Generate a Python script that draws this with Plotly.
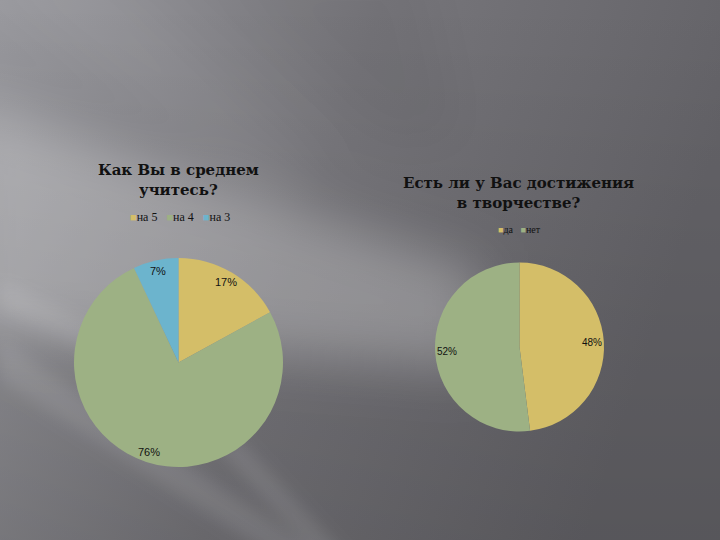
import base64
import math
import plotly.graph_objects as go

# ---------------- data ----------------
left_title = "Как Вы в среднем<br>учитесь?"
left_labels = ["на 5", "на 4", "на 3"]
left_values = [17, 76, 7]

right_title = "Есть ли у Вас достижения<br>в творчестве?"
right_labels = ["да", "нет"]
right_values = [48, 52]

left_colors = ["#D4BE68", "#9DB184", "#6CB4CD"]
right_colors = ["#D4BE68", "#9DB184"]

W, H = 720, 540

# ---------------- background (slide) ----------------
svg = f'''<svg xmlns="http://www.w3.org/2000/svg" width="{W}" height="{H}" viewBox="0 0 {W} {H}">
<defs>
<linearGradient id="g" x1="0" y1="0" x2="1" y2="0.25">
<stop offset="0" stop-color="#98989d"/>
<stop offset="0.5" stop-color="#77767b"/>
<stop offset="1" stop-color="#646368"/>
</linearGradient>
<linearGradient id="v" x1="0" y1="0" x2="0" y2="1">
<stop offset="0" stop-color="#000" stop-opacity="0"/>
<stop offset="1" stop-color="#000" stop-opacity="0.13"/>
</linearGradient>
<filter id="b" x="-50%" y="-50%" width="200%" height="200%"><feGaussianBlur stdDeviation="26"/></filter>
<filter id="s" x="-50%" y="-50%" width="200%" height="200%"><feGaussianBlur stdDeviation="8"/></filter>
</defs>
<rect width="{W}" height="{H}" fill="url(#g)"/>
<rect width="{W}" height="{H}" fill="url(#v)"/>
<g filter="url(#b)">
<polygon points="-40,100 -40,330 480,370 480,270" fill="#fff" fill-opacity="0.26"/>
<polygon points="-40,-40 100,-40 330,180 260,200" fill="#fff" fill-opacity="0.05"/>
<polygon points="200,-40 420,-40 460,140 380,140" fill="#000" fill-opacity="0.04"/>
</g>
<g filter="url(#s)">
<polygon points="0,280 0,310 240,420 250,400" fill="#fff" fill-opacity="0.10"/>
<polygon points="0,340 0,380 280,560 330,560" fill="#fff" fill-opacity="0.10"/>
<polygon points="210,440 240,440 350,560 320,560" fill="#fff" fill-opacity="0.10"/>
</g>
</svg>'''
bg_uri = "data:image/svg+xml;base64," + base64.b64encode(svg.encode("utf-8")).decode("ascii")

# ---------------- pies ----------------
left_px = dict(x0=73, x1=284, y0=258, y1=467)
right_px = dict(x0=435, x1=604, y0=262, y1=432)


def dom(p):
    return dict(x=[p["x0"] / W, p["x1"] / W], y=[1 - p["y1"] / H, 1 - p["y0"] / H])


fig = go.Figure()
fig.add_trace(go.Pie(labels=left_labels, values=left_values, sort=False,
                     direction="clockwise", rotation=0, domain=dom(left_px),
                     marker=dict(colors=left_colors, line=dict(width=0)),
                     textinfo="none", showlegend=False, hoverinfo="label+percent"))
fig.add_trace(go.Pie(labels=right_labels, values=right_values, sort=False,
                     direction="clockwise", rotation=0, domain=dom(right_px),
                     marker=dict(colors=right_colors, line=dict(width=0)),
                     textinfo="none", showlegend=False, hoverinfo="label+percent"))

annotations = []


def pct_labels(values, p, frac, size):
    cx = (p["x0"] + p["x1"]) / 2
    cy = (p["y0"] + p["y1"]) / 2
    r = min(p["x1"] - p["x0"], p["y1"] - p["y0"]) / 2
    tot = sum(values)
    acc = 0
    for v in values:
        mid = (acc + v / 2) / tot * 2 * math.pi
        acc += v
        x = cx + r * frac * math.sin(mid)
        y = cy - r * frac * math.cos(mid)
        annotations.append(dict(x=x / W, y=1 - y / H, xref="paper", yref="paper",
                                xanchor="center", yanchor="middle",
                                text=f"{round(v / tot * 100)}%", showarrow=False,
                                font=dict(family="Liberation Sans, Arial", size=size, color="#111")))


pct_labels(left_values, left_px, 0.9, 11)
pct_labels(right_values, right_px, 0.86, 10)

# titles
title_font = dict(family="DejaVu Serif, serif", size=15, color="#111", weight="bold")
annotations.append(dict(x=178.5 / W, y=1 - 180 / H, xref="paper", yref="paper", text=left_title,
                        xanchor="center", yanchor="middle",
                        showarrow=False, font=title_font, align="center"))
annotations.append(dict(x=518 / W, y=1 - 193 / H, xref="paper", yref="paper", text=right_title,
                        xanchor="center", yanchor="middle",
                        showarrow=False, font=title_font, align="center"))


def legend_text(labels, colors, sw, gap):
    parts = [f"<span style='color:{c};font-size:{sw}px'>■</span>{l}" for l, c in zip(labels, colors)]
    return gap.join(parts)


annotations.append(dict(x=180 / W, y=1 - 217 / H, xref="paper", yref="paper",
                        xanchor="center", yanchor="middle",
                        text=legend_text(left_labels, left_colors, 11, "\u00a0\u00a0\u00a0"),
                        showarrow=False, font=dict(family="Liberation Serif, serif", size=12, color="#111")))
annotations.append(dict(x=519 / W, y=1 - 229 / H, xref="paper", yref="paper",
                        xanchor="center", yanchor="middle",
                        text=legend_text(right_labels, right_colors, 9, "\u00a0\u00a0\u00a0"),
                        showarrow=False, font=dict(family="Liberation Serif, serif", size=10, color="#111")))

fig.update_layout(
    width=W, height=H,
    margin=dict(l=0, r=0, t=0, b=0),
    paper_bgcolor="#6e6d72",
    plot_bgcolor="rgba(0,0,0,0)",
    showlegend=False,
    annotations=annotations,
    images=[dict(source=bg_uri, xref="paper", yref="paper", x=0, y=1, sizex=1, sizey=1,
                 xanchor="left", yanchor="top", sizing="stretch", layer="below")],
)

fig.write_html("out.html", config={"displayModeBar": False},
               post_script="document.body.style.margin='0';document.body.style.overflow='hidden';")
